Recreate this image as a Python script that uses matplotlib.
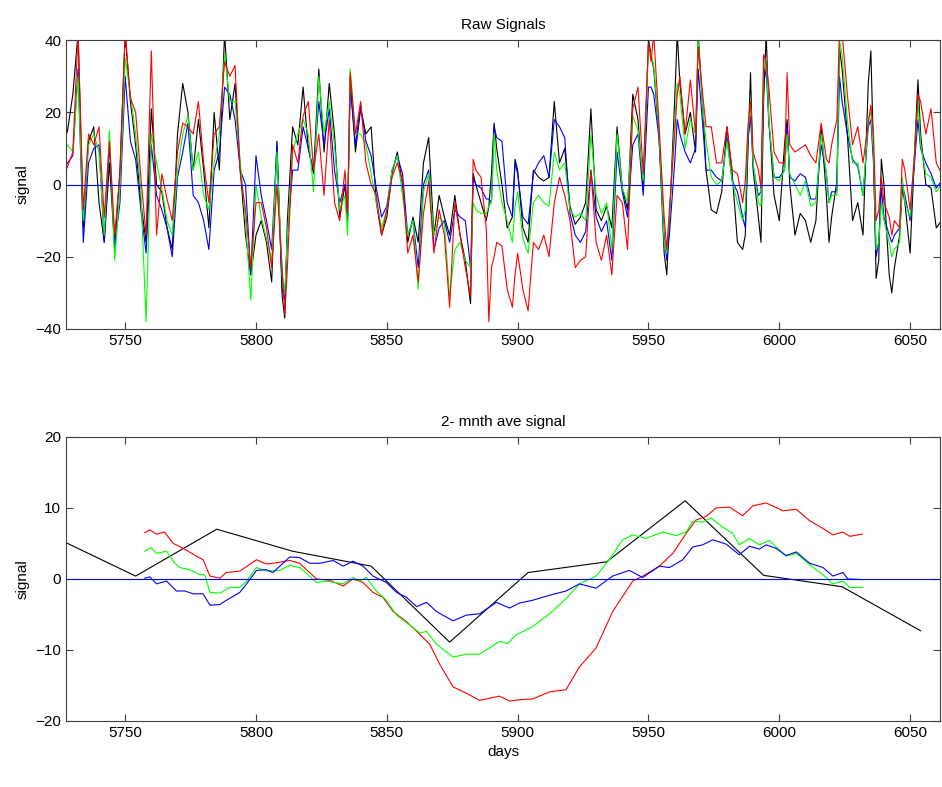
import numpy as np
import matplotlib.pyplot as plt

plt.rcParams['font.family'] = ['Liberation Sans', 'DejaVu Sans']

# ---- raw signals (top panel) ----
raw_days = [5726, 5728, 5730, 5732, 5734, 5736, 5738, 5740, 5742, 5744, 5746, 5748, 5750, 5752, 5754,
            5756, 5758, 5760, 5762, 5764, 5766, 5768, 5770, 5772, 5774,
            5776, 5778, 5780, 5782, 5784, 5786, 5788, 5790, 5792, 5794, 5796, 5798, 5800, 5802, 5804,
            5806, 5808, 5810, 5811, 5812, 5814, 5816, 5818, 5820, 5822,
            5824, 5826, 5828, 5830, 5832, 5834, 5835, 5836, 5838, 5840, 5842, 5844, 5846, 5848, 5850,
            5852, 5854, 5856, 5858, 5860, 5862, 5864, 5866, 5868, 5870,
            5872, 5874, 5876, 5878, 5880, 5882, 5883, 5884, 5886, 5888, 5889, 5890, 5891, 5892, 5894,
            5896, 5898, 5899, 5900, 5902, 5904, 5906, 5908, 5910, 5912, 5914, 5916, 5918,
            5920, 5922, 5924, 5926, 5928, 5930, 5932, 5934, 5936, 5938, 5940, 5942, 5944, 5946, 5948,
            5950, 5951, 5952, 5954, 5956, 5957, 5958, 5960, 5961, 5962, 5964, 5966,
            5968, 5969, 5971, 5972, 5974, 5976, 5978, 5980, 5982, 5984, 5986, 5987, 5988, 5989, 5990,
            5992, 5993, 5994, 5995, 5996, 5998, 6000, 6002, 6003, 6004, 6006, 6008, 6010, 6012,
            6014, 6016, 6018, 6019, 6020, 6022, 6023, 6024, 6026, 6028, 6030, 6032, 6034, 6035, 6036,
            6037, 6038, 6039, 6040, 6042, 6043, 6044, 6046, 6047, 6048, 6050, 6052, 6053, 6054, 6056,
            6058, 6060, 6062]

raw_black = [10, 15, 25, 42, -12, 12, 16, -5, -16, 6, -18, 4, 42, 23, 11, -5, -16, 21, 0, -2, -12, -18, 14, 28, 20,
             4, 18, 4, -12, 20, 4, 42, 18, 28, 4, -14, -25, -14, -10, -16, -27, 12, -31, -37, -10, 16, 11, 27, 10, 3,
             32, 9, 28, 14, -9, 0, -10, 30, 9, 21, 14, 16, -5, -14, -9, 3, 9, 0, -16, -9, -16, 6, 13, -14, -3,
             -9, -14, -3, -14, -21, -33, 3, 0, -5, -10, -6, 3, 17, 10, 0, -12, -9, 7, 4, -12, -16, 4, 2, 1, 2, 23, 6, 10,
             -6, -11, -9, -5, 21, -7, -10, -6, -12, 16, -1, -7, 25, 18, -2, 40, 36, 32, 14, -19, -25, -10, 23, 42, 28, 14, 20,
             9, 42, 18, 4, -7, -8, -2, 16, 3, -16, -18, -14, 9, 31, 4, -9, -16, 23, 42, 18, -3, -10, 11, 18, 0, -14, -8, -10, -16,
             -10, 16, -3, -16, -9, 1, 38, 32, 14, -10, -5, -14, 28, 37, 9, -26, -21, 7, 0, -25, -30, -23, -14, -1, -5, -19,
             14, 29, 14, 0, -1, -12, -10]

raw_red = [2, 5, 9, 42, -7, 14, 11, 16, -9, 12, -14, 3, 42, 24, 20, 2, -14, 37, -14, 3, -4, -10, 9, 17, 16,
           14, 23, 6, -5, 14, 16, 34, 30, 33, 3, -7, -23, -5, -5, -12, -23, 0, -23, -36, -23, 11, 6, 19, 23, 4,
           14, -3, 18, -5, -10, 4, -8, 31, 14, 23, 6, 0, -3, -14, -7, 2, 6, 1, -19, -14, -27, -8, 1, -19, -7,
           -14, -34, -5, -14, -23, -31, 7, 4, 2, -12, -38, -23, -20, -16, -17, -29, -34, -25, -19, -29, -35, -16, -18, -14, -20, -5, 2, -3,
           -10, -23, -21, -20, 4, -16, -21, -14, -25, -3, -5, -18, 21, 27, 3, 39, 34, 42, 17, -9, -18, -7, 14, 25, 30, 14, 29,
           14, 38, 23, 16, 16, 6, 6, 16, 4, 3, -5, 1, 16, 23, 9, 4, -1, 36, 34, 27, 9, 6, 6, 31, 11, 9, 10, 11, 8,
           6, 17, 7, 6, 11, 18, 42, 42, 25, 11, 16, 6, 17, 22, 14, -10, -7, 2, -5, -9, -14, -10, -12, 7, 4, -7,
           11, 25, 23, 14, 21, 6, 3]

raw_green = [8, 11, 9, 30, -10, 11, 14, 9, -14, 15, -21, -1, 35, 25, 14, -2, -38, 14, 6, -1, -10, -14, 4, 14, 19,
             4, 9, -3, -7, 6, 14, 36, 23, 23, 6, -10, -32, 0, -9, -15, -21, 9, -25, -30, -14, 9, 14, 18, 14, -2,
             30, 14, 23, 11, -7, -3, -14, 32, 14, 14, 11, 3, -5, -12, -7, 4, 8, -3, -14, -10, -29, -2, 3, -14, -9,
             -11, -31, -18, -16, -21, -23, -5, -7, -8, -8, -6, -5, 14, 4, -5, -10, -16, -6, -2, -15, -19, -5, -3, -5, -6, 9, 4, 6,
             -7, -9, -8, -10, 14, -3, -8, -5, -18, 14, -1, -5, 19, 15, 1, 38, 36, 33, 15, -16, -19, -9, 17, 28, 25, 10, 18,
             14, 40, 19, 12, 2, 0, 1, 12, 1, -5, -10, -7, 14, 23, 6, -5, -6, 32, 35, 18, 2, 1, 4, 14, 3, 0, -3, 1, -6,
             -5, 14, 3, -5, -3, -3, 40, 36, 18, 6, 6, -3, 18, 20, 9, -18, -16, -5, -10, -16, -20, -18, -16, 2, -5, -9,
             12, 23, 11, 3, 2, -2, 0]

raw_blue = [4, 6, 8, 32, -16, 6, 10, 11, -16, 11, -17, -5, 30, 12, 7, -7, -19, 11, -3, -7, -12, -20, 2, 9, 17,
            -3, -5, -10, -18, 4, 9, 27, 25, 18, 4, 0, -25, 8, -3, -10, -18, 11, -29, -32, -14, 4, 4, 16, 10, 4,
            23, 11, 21, 4, -5, 0, -10, 27, 11, 22, 12, 8, -1, -9, -6, 4, 8, 3, -14, -10, -23, 0, 4, -18, -12,
            -10, -16, -7, -9, -10, -23, 2, 0, -1, -4, -4, -5, 16, 13, 12, -5, -9, 6, 3, -9, -11, 3, 6, 8, 2, 18, 16, 13,
            -8, -14, -16, -13, 4, -9, -13, -10, -21, 9, -2, -9, 11, 14, -3, 27, 27, 25, 13, -14, -21, -14, 6, 18, 14, 9, 6,
            10, 32, 14, 4, 4, 2, 1, 13, 1, -2, -9, -12, 12, 19, 5, -3, -2, 28, 32, 17, 2, 2, 4, 17, 2, 1, 3, 2, -4,
            -4, 11, 3, -5, -2, -2, 30, 23, 14, 7, 5, -3, 16, 18, 6, -20, -16, -1, -9, -14, -16, -14, -12, 0, -3, -10,
            9, 18, 10, 6, 3, -1, 1]

# ---- 2-month averages (bottom panel) ----
ave_black_days = [5724, 5754, 5785, 5814, 5844, 5874, 5904, 5934, 5964, 5994, 6024, 6054]
ave_black = [5.7, 0.4, 7.0, 3.9, 1.8, -8.9, 0.9, 2.4, 11.0, 0.5, -1.1, -7.3]

ave_red_days = [5757.5, 5759.4, 5762, 5765, 5768.4, 5772.2, 5777.3, 5779.8, 5782.4, 5786.2, 5788.7, 5793.8,
                5800.2, 5804, 5806.5, 5812.9, 5816.7, 5819.3, 5823.1, 5828.2, 5833.3, 5837.1, 5840.9, 5844.7,
                5848.5, 5852.4, 5857.5, 5862.6, 5866.4, 5870.2, 5875.3, 5880.4, 5885.5, 5893, 5897, 5900.7,
                5905.8, 5912.2, 5918.5, 5923.6, 5930, 5936.3, 5944, 5947.8, 5954.2, 5959.3, 5964.4, 5968.2,
                5972, 5975.9, 5981, 5986, 5989.9, 5995, 6001.4, 6006.5, 6011.6, 6016.7, 6020.5, 6024.3,
                6026.9, 6031.7]
ave_red = [6.5, 6.9, 6.3, 6.6, 5.0, 4.3, 3.2, 2.7, 0.4, 0.1, 0.9, 1.1,
           2.7, 2.1, 2.2, 2.6, 2.2, 1.3, 0.0, -0.2, -1.0, 0.0, -0.5, -1.9,
           -2.6, -4.6, -6.0, -7.8, -9.2, -12.0, -15.2, -16.1, -17.1, -16.5, -17.2, -17.0,
           -16.9, -15.9, -15.6, -12.4, -9.7, -4.6, -0.3, 0.4, 1.8, 3.6, 6.4, 8.3,
           8.8, 10.0, 10.1, 8.9, 10.3, 10.7, 9.6, 9.8, 8.2, 7.1, 6.2, 6.6,
           6.0, 6.3]

ave_green_days = [5757.5, 5760, 5762, 5765.8, 5769, 5770.9, 5774.7, 5778.5, 5780.4, 5782.4, 5786.2, 5790,
                  5793.8, 5796.4, 5800.2, 5804, 5809.1, 5812.9, 5816.7, 5819.9, 5823.1, 5826.9, 5833.3, 5837.1,
                  5839.7, 5842.2, 5846, 5849.8, 5853.7, 5858.8, 5862.6, 5865.2, 5869, 5875.3, 5880.4, 5885.5,
                  5893, 5896.2, 5899.4, 5905.8, 5912.2, 5918.5, 5923.6, 5930, 5935, 5940.1, 5944, 5949,
                  5955.4, 5960.5, 5964.4, 5966.9, 5970.7, 5973.9, 5978.4, 5982.2, 5984.7, 5988.6, 5992.4, 5996.2,
                  6002.6, 6006.5, 6011.6, 6016.7, 6020.5, 6024.3, 6026.9, 6031.7]
ave_green = [3.9, 4.4, 3.6, 3.9, 2.2, 1.6, 1.3, 0.6, 0.6, -1.9, -2.0, -1.2,
             -1.2, -0.3, 1.6, 1.1, 1.2, 1.9, 1.6, 0.6, -0.5, -0.3, -0.7, 0.2,
             -0.3, 0.2, -1.7, -3.0, -5.1, -6.5, -7.6, -7.4, -9.2, -11.0, -10.6, -10.6,
             -8.8, -9.1, -7.9, -6.7, -4.9, -2.8, -0.7, 0.4, 2.7, 5.5, 6.2, 5.7,
             6.6, 6.1, 6.6, 8.1, 8.0, 8.6, 7.3, 6.4, 4.8, 5.7, 4.8, 5.4,
             3.2, 3.6, 2.0, 0.6, -0.7, -0.3, -1.2, -1.2]

ave_blue_days = [5757.5, 5759.4, 5762, 5765.8, 5769.6, 5772.8, 5776, 5779.8, 5782.4, 5786.2, 5788.7, 5793.8,
                 5796.4, 5800.2, 5804, 5806.5, 5812.9, 5816.7, 5820.6, 5824.4, 5829.5, 5833.3, 5837.1, 5840.9,
                 5844.7, 5849.8, 5853.7, 5857.5, 5861.4, 5865.2, 5869, 5875.3, 5880.4, 5885.5, 5891.9, 5896.9,
                 5900.7, 5905.8, 5912.2, 5918.5, 5923.6, 5930, 5936.3, 5942.7, 5947.8, 5954.2, 5958, 5963.1,
                 5966.9, 5970.7, 5974.6, 5979.7, 5984.7, 5988.6, 5992.4, 5995, 5998.8, 6002.6, 6006.5, 6011.6,
                 6016.7, 6020.5, 6024.3, 6026.2, 6031.7]
ave_blue = [0.1, 0.3, -0.7, -0.3, -1.7, -1.7, -2.1, -2.1, -3.7, -3.6, -3.0, -1.9,
            -0.7, 1.2, 1.3, 0.9, 3.1, 3.0, 2.2, 2.2, 2.6, 1.8, 2.5, 1.8,
            0.4, -0.5, -1.9, -2.6, -3.9, -3.3, -4.6, -5.9, -5.1, -4.9, -3.3, -4.1,
            -3.4, -3.0, -2.3, -1.7, -0.7, -1.3, 0.4, 1.2, 0.2, 1.8, 1.6, 2.7,
            4.5, 4.8, 5.5, 4.9, 3.4, 4.6, 4.2, 4.8, 4.3, 3.3, 3.8, 2.2,
            1.6, 0.4, 0.9, 0.0, -0.1]

x_ticks = [5750, 5800, 5850, 5900, 5950, 6000, 6050]
xlim = (5727.4, 6061.5)

fig = plt.figure(figsize=(9.42, 7.87), dpi=100)
ax1 = fig.add_axes([0.0701, 0.582, 0.928, 0.367])
ax2 = fig.add_axes([0.0701, 0.0839, 0.928, 0.361])

lw = 0.8
ax1.plot(raw_days, raw_black, color='k', lw=lw)
ax1.plot(raw_days, raw_blue, color='b', lw=lw)
ax1.plot(raw_days, raw_green, color='#00ff00', lw=lw)
ax1.plot(raw_days, raw_red, color='r', lw=lw)
ax1.axhline(0, color='b', lw=lw)
ax1.set_ylim(-40, 40)
ax1.set_yticks([-40, -20, 0, 20, 40])
ax1.set_title('Raw Signals', fontsize=11, pad=8)
ax1.set_ylabel('signal', fontsize=11)

ax2.plot(ave_black_days, ave_black, color='k', lw=lw)
ax2.plot(ave_red_days, ave_red, color='r', lw=lw)
ax2.plot(ave_green_days, ave_green, color='#00ff00', lw=lw)
ax2.plot(ave_blue_days, ave_blue, color='b', lw=lw)
ax2.axhline(0, color='b', lw=lw)
ax2.set_ylim(-20, 20)
ax2.set_yticks([-20, -10, 0, 10, 20])
ax2.set_title('2- mnth ave signal', fontsize=11, pad=8)
ax2.set_ylabel('signal', fontsize=11)
ax2.set_xlabel('days', fontsize=11)

for ax in (ax1, ax2):
    ax.set_xlim(*xlim)
    ax.set_xticks(x_ticks)
    ax.tick_params(direction='in', top=True, right=True, length=5, labelsize=11, color='#404040')
    for s in ax.spines.values():
        s.set_color('#404040')
        s.set_linewidth(0.8)

fig.savefig('out.png', dpi=100)
